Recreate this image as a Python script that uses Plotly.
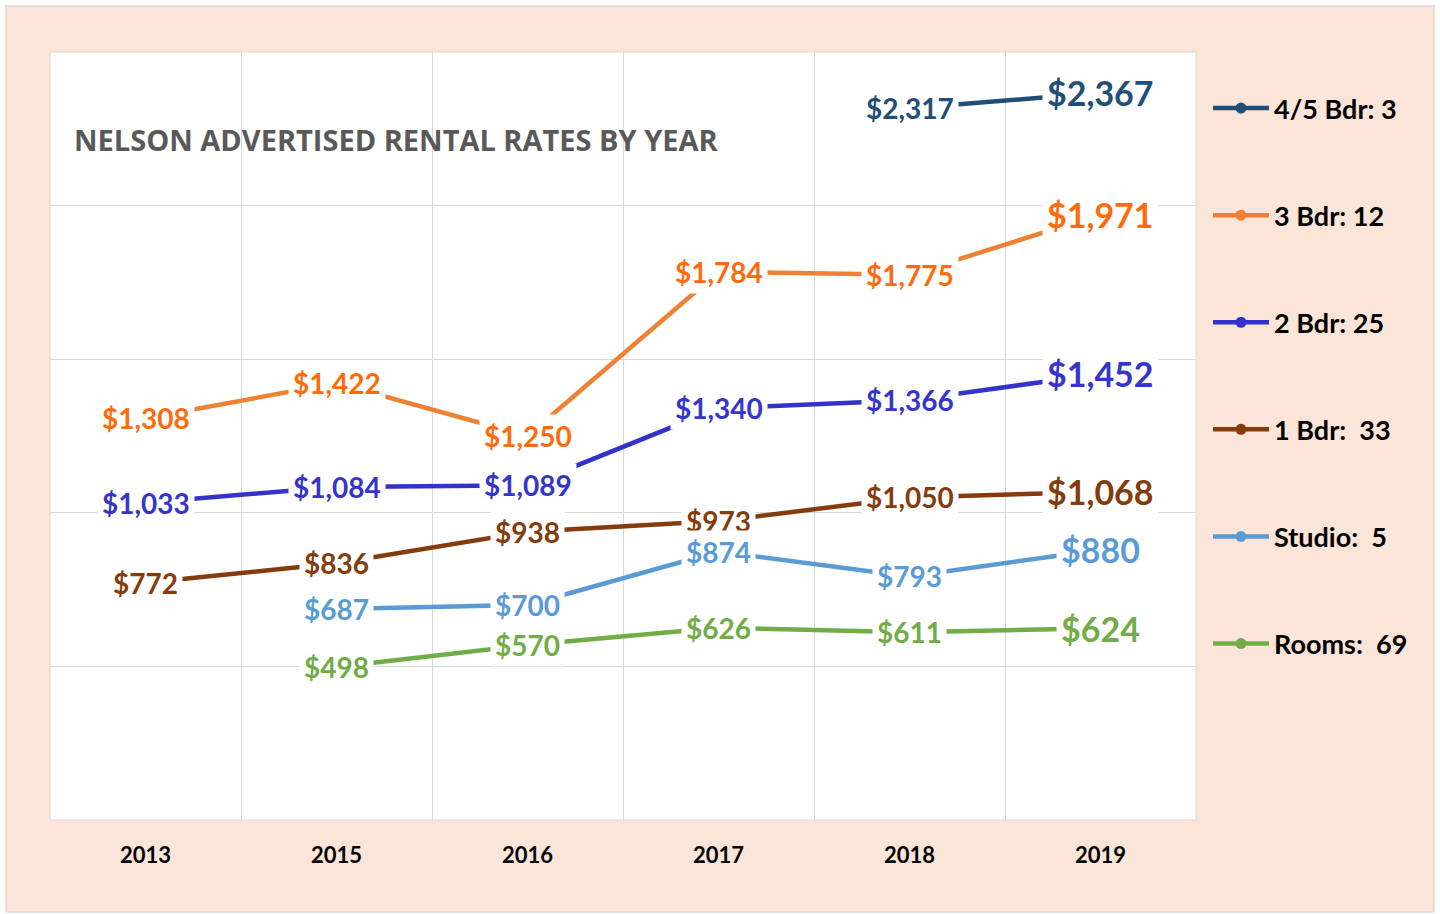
import plotly.graph_objects as go

years = ["2013", "2015", "2016", "2017", "2018", "2019"]
series_names = ["4/5 Bdr: 3", "3 Bdr: 12", "2 Bdr: 25", "1 Bdr:\u00a0 33", "Studio:\u00a0 5", "Rooms:\u00a0 69"]
bdr45 = [None, None, None, None, 2317, 2367]
bdr3 = [1308, 1422, 1250, 1784, 1775, 1971]
bdr2 = [1033, 1084, 1089, 1340, 1366, 1452]
bdr1 = [772, 836, 938, 973, 1050, 1068]
studio = [None, 687, 700, 874, 793, 880]
rooms = [None, 498, 570, 626, 611, 624]
series_values = [bdr45, bdr3, bdr2, bdr1, studio, rooms]

line_colors = ["#1F4E79", "#EE8133", "#3333CC", "#843C0C", "#5B9BD5", "#70AD47"]
label_colors = ["#1F4E79", "#FF6A0A", "#3535CC", "#843C0C", "#5B9BD5", "#70AD47"]

title_text = "NELSON ADVERTISED RENTAL RATES BY YEAR"
FONT = "Lato, 'Open Sans', sans-serif"

W, H = 1440, 914
L, R, T, B = 50, 244, 52, 94
pw, ph = W - L - R, H - T - B


def px_to_paper_x(px):
    return (px - L) / pw


def px_to_paper_y(py):
    return (H - B - py) / ph


fig = go.Figure()
for i, (name, vals) in enumerate(zip(series_names, series_values)):
    fig.add_trace(go.Scatter(
        x=years, y=vals, name=name, mode="lines+markers",
        line=dict(color=line_colors[i], width=4.5),
        marker=dict(size=11, color=line_colors[i]),
        connectgaps=False, legendgroup=f"g{i}", hoverinfo="skip",
    ))
    for j, v in enumerate(vals):
        if v is None:
            continue
        last = j == len(years) - 1
        fig.add_annotation(
            xref="x", yref="y", x=j, y=v, text=f"${v:,}", showarrow=False,
            font=dict(family=FONT, size=34 if last else 28, color=label_colors[i], weight="bold"),
            bgcolor="white", borderpad=4, xanchor="center", yanchor="middle",
        )

fig.add_annotation(
    xref="paper", yref="paper", x=px_to_paper_x(72), y=px_to_paper_y(139),
    xanchor="left", yanchor="middle", showarrow=False, text=title_text,
    font=dict(family="'Open Sans', Lato, sans-serif", size=29, color="#595959", weight="bold"),
)

# outer chart area and plot area backgrounds
fig.add_shape(type="rect", xref="paper", yref="paper", layer="below",
              x0=px_to_paper_x(6), x1=px_to_paper_x(1434), y0=px_to_paper_y(912), y1=px_to_paper_y(6),
              fillcolor="#FBE5D8", line=dict(color="#D9D9D9", width=1.5))
fig.add_shape(type="rect", xref="paper", yref="paper", layer="below",
              x0=0, x1=1, y0=0, y1=1, fillcolor="white", line=dict(color="#D9D9D9", width=1))

fig.update_xaxes(
    type="category", categoryorder="array", categoryarray=years, range=[-0.5, 5.5],
    tickson="boundaries", showgrid=True, gridcolor="#D9D9D9", gridwidth=1,
    ticks="", ticklabelstandoff=20, showline=False, zeroline=False,
    tickfont=dict(family=FONT, size=22, color="black", weight="bold"),
)
fig.update_yaxes(
    range=[0, 2500], dtick=500, showgrid=True, gridcolor="#D9D9D9", gridwidth=1,
    showticklabels=False, zeroline=False, showline=False,
)

fig.update_layout(
    width=W, height=H, margin=dict(l=L, r=R, t=T, b=B, pad=0),
    paper_bgcolor="white", plot_bgcolor="white",
    showlegend=True,
    legend=dict(
        x=px_to_paper_x(1208), y=px_to_paper_y(84), xanchor="left", yanchor="top",
        bgcolor="rgba(0,0,0,0)", tracegroupgap=69, traceorder="grouped",
        font=dict(family=FONT, size=27, color="black", weight="bold"),
        itemwidth=56,
    ),
    hovermode=False,
)

fig.write_html("out.html", config={"displayModeBar": False},
               post_script="document.body.style.margin='0';")
